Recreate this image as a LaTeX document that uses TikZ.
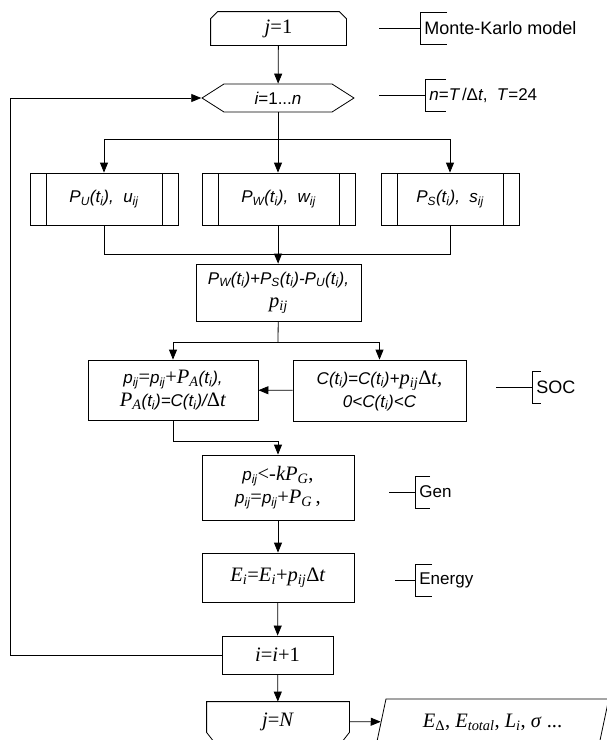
\documentclass[tikz,border=0pt]{standalone}
\usepackage{fontspec}
\setmainfont{Liberation Serif}
\setsansfont{Liberation Sans}
\usepackage{tikz}
\usetikzlibrary{arrows.meta,shapes.symbols,shapes.geometric}
\newcommand\sv[1]{{\sffamily\itshape\fontsize{17}{22}\selectfont #1}}
\newcommand\su[1]{{\sffamily\fontsize{17}{22}\selectfont #1}}
\newcommand\rv[1]{\textit{#1}}
\newcommand\lo[1]{\textsubscript{#1}}

\begin{document}
\begin{tikzpicture}[x=1pt, y=-1pt, >={Triangle[length=10pt,width=8pt]}, line width=0.8pt,
  font=\fontsize{20.5}{23}\selectfont]
  \tikzstyle{blk}=[rectangle,draw,align=center,inner sep=2pt]
  \tikzstyle{subproc}=[blk,minimum height=52,
    path picture={\draw ([xshift=16pt]path picture bounding box.north west) -- ([xshift=16pt]path picture bounding box.south west)
      ([xshift=-16pt]path picture bounding box.north east) -- ([xshift=-16pt]path picture bounding box.south east);}]
  \tikzstyle{lim}=[rectangle,inner sep=2pt]
  \tikzstyle{note}=[anchor=west,minimum height=31,inner xsep=4pt,inner ysep=0pt,font=\sffamily\fontsize{17}{20}\selectfont]

  \useasboundingbox (0,0) rectangle (607,740);
  \fill[white] (0,0) rectangle (607,740);
  \clip (0,0) rectangle (607,740);

  \node[lim,minimum width=135,minimum height=33] (j1) at (278.5,28.5) {\rv{j}=1};
  \node[signal,draw,signal to=west and east,signal pointer angle=65,minimum width=152,minimum height=28,inner sep=0pt] (hex) at (278,98) {\sv{i}\su{=1...}\sv{n}};

  \node[subproc,minimum width=148] (pu) at (104,199) {\sv{P\lo{U}(t\lo{i}),~~u\lo{ij}}};
  \node[subproc,minimum width=153] (pw) at (278.5,199) {\sv{P\lo{W}(t\lo{i}),~~w\lo{ij}}};
  \node[subproc,minimum width=138] (ps) at (450,199) {\sv{P\lo{S}(t\lo{i}),~~s\lo{ij}}};

  \node[blk,minimum width=165,minimum height=57] (sum) at (278.5,292.5) {\sv{P\lo{W}(t\lo{i})+P\lo{S}(t\lo{i})-P\lo{U}(t\lo{i}),}\\\rv{p\lo{ij}}};
  \node[blk,minimum width=170,minimum height=60] (acc) at (173,390) {\sv{p\lo{ij}}=\sv{p\lo{ij}}+\rv{P\lo{A}}\sv{(t\lo{i}),}\\\rv{P\lo{A}}\sv{(t\lo{i})=C(t\lo{i})/}Δ\rv{t}};
  \node[blk,minimum width=173,minimum height=61] (soc) at (379.5,390.5) {\sv{C(t\lo{i})=C(t\lo{i})+}\rv{p\lo{ij}}Δ\rv{t},\\\sv{0<C(t\lo{i})<C}};
  \node[blk,minimum width=152,minimum height=65] (gen) at (278,487.5) {\sv{p\lo{ij}}<-\rv{kP\lo{G}},\\\sv{p\lo{ij}}=\sv{p\lo{ij}}+\rv{P\lo{G}}\,,};
  \node[blk,minimum width=152,minimum height=49] (energy) at (278,577.5) {\rv{E\lo{i}}=\rv{E\lo{i}}+\rv{p\lo{ij}}Δ\rv{t}};
  \node[blk,minimum width=111,minimum height=38] (inc) at (277.5,655) {\rv{i}=\rv{i}+1};
  \node[lim,minimum width=142,minimum height=39] (jN) at (278,721.5) {\rv{j}=\rv{N}};
  \node[trapezium,draw,trapezium left angle=74,trapezium right angle=106,trapezium stretches=true,minimum width=233,minimum height=46] (out) at (492.5,722) {\rv{E}\lo{Δ}, \rv{E\lo{total}}, \rv{L\lo{i}}, \rv{σ} ...};

  % loop limit outlines, cut corners
  \draw (j1.south west) -- ([yshift=-7pt]j1.north west) -- ([xshift=7pt]j1.north west) -- ([xshift=-7pt]j1.north east)
    -- ([yshift=-7pt]j1.north east) -- (j1.south east) -- cycle;
  \draw (jN.north west) -- ([yshift=9pt]jN.south west) -- ([xshift=7pt]jN.south west) -- ([xshift=-7pt]jN.south east)
    -- ([yshift=9pt]jN.south east) -- (jN.north east) -- cycle;

  \node[note,font=\sffamily\fontsize{18}{20}\selectfont] (mk) at (420,28.5) {Monte-Karlo model};
  \node[note] (nt) at (425,95) {\sv{n}\su{=}\sv{T}\,/Δ\rv{t},~~\rv{T}=24};
  \node[note,font=\sffamily\fontsize{18}{20}\selectfont] (socn) at (532,387.5) {SOC};
  \node[note] (genn) at (415,492) {Gen};
  \node[note] (engn) at (415,580) {Energy};
  \coordinate (mk0) at (379,28.5);
  \coordinate (nt0) at (379,95);
  \coordinate (socn0) at (496,387.5);
  \coordinate (genn0) at (389,492);
  \coordinate (engn0) at (395,580);
  \draw (mk0) -- (mk.west);
  \draw (nt0) -- (nt.west);
  \draw (socn0) -- (socn.west);
  \draw (genn0) -- (genn.west);
  \draw (engn0) -- (engn.west);
  \draw ([xshift=27]mk.north west) -- (mk.north west) -- (mk.south west) -- ([xshift=27]mk.south west);
  \draw ([xshift=21]nt.north west) -- (nt.north west) -- (nt.south west) -- ([xshift=21]nt.south west);
  \draw ([xshift=9]socn.north west) -- (socn.north west) -- (socn.south west) -- ([xshift=9]socn.south west);
  \draw ([xshift=15]genn.north west) -- (genn.north west) -- (genn.south west) -- ([xshift=15]genn.south west);
  \draw ([xshift=17]engn.north west) -- (engn.north west) -- (engn.south west) -- ([xshift=17]engn.south west);

  \coordinate (fork1) at (278,139);
  \coordinate (join1) at (278,254);
  \coordinate (fork2) at (278,342);
  \coordinate (bend) at (278,441);
  \coordinate (back) at (10,655);

  \draw[->] (j1) -- (hex);
  \draw (hex) -- (fork1);
  \draw[->] (fork1) -| (pu);
  \draw[->] (fork1) -- (fork1 |- pw.north);
  \draw[->] (fork1) -| (ps);
  \draw (pu) |- (join1);
  \draw (ps) |- (join1);
  \draw (pw.south -| join1) -- (join1);
  \draw[->] (join1) -- (sum);
  \draw (sum) -- (fork2);
  \draw[->] (fork2) -| (acc);
  \draw[->] (fork2) -| (soc);
  \draw[->] (soc) -- (acc);
  \draw[->] (acc) |- (bend) -- (gen);
  \draw[->] (gen) -- (energy);
  \draw[->] (energy) -- (inc);
  \draw[->] (inc) -- (jN);
  \draw[->] (jN) -- (out);
  \draw[->] (inc) -- (back) |- (hex);
\end{tikzpicture}
\end{document}
